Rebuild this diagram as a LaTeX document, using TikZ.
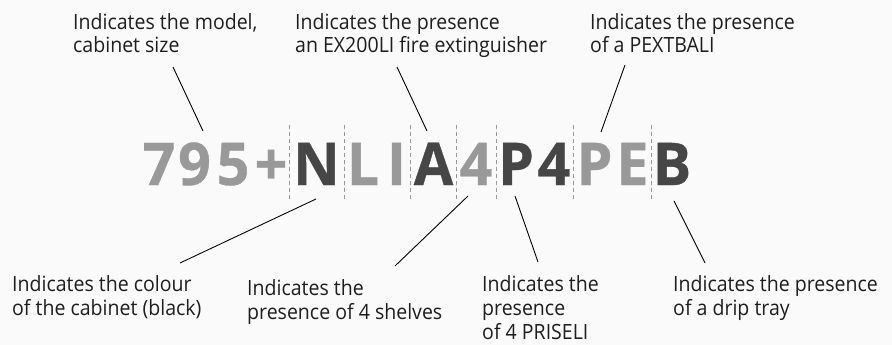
\documentclass[tikz,border=0pt]{standalone}
\usepackage{fontspec}
\setmainfont{Open Sans}[FakeStretch=0.93]
\newfontfamily\codefont{Open Sans}[FakeStretch=0.97,FakeBold=0.6]
\definecolor{codegray}{RGB}{153,153,153}
\definecolor{codedark}{RGB}{70,70,70}
\definecolor{labeltext}{RGB}{30,30,30}
\definecolor{bgpaper}{RGB}{250,250,250}
\tikzset{
	codechar/.style={anchor=base, inner sep=0pt, font=\codefont\bfseries\fontsize{59}{59}\selectfont},
	hint/.style={anchor=base west, inner sep=0pt, align=left, text=labeltext, font=\fontsize{21}{24}\selectfont},
	sep/.style={codegray, line width=0.8pt, dash pattern=on 4pt off 3pt},
	pointer/.style={black, line width=0.9pt}
}

\begin{document}
\begin{tikzpicture}[x=1pt, y=-1pt]
			%%%%% START %%%%%
			
			\fill[bgpaper] (0, 0) rectangle (892, 345);
			\useasboundingbox (0, 0) rectangle (892, 345);
			
			% code letters
			\node[codechar, text=codegray] (c7) at (159, 185) {7};
			\node[codechar, text=codegray] (c9) at (194.5, 185) {9};
			\node[codechar, text=codegray] (c5) at (233, 185) {5};
			\node[codechar, text=codegray] (cplus) at (271, 185) {+};
			\node[codechar, text=codedark] (cN) at (316.5, 185) {N};
			\node[codechar, text=codegray] (cL) at (363, 185) {L};
			\node[codechar, text=codegray] (cI) at (396.5, 185) {I};
			\node[codechar, text=codedark] (cA) at (433.5, 185) {A};
			\node[codechar, text=codegray] (c4a) at (476, 185) {4};
			\node[codechar, text=codedark] (cP) at (516, 185) {P};
			\node[codechar, text=codedark] (c4b) at (554, 185) {4};
			\node[codechar, text=codegray] (cPb) at (594.5, 185) {P};
			\node[codechar, text=codegray] (cE) at (632.5, 185) {E};
			\node[codechar, text=codedark] (cB) at (672, 185) {B};
			
			% dashed separators
			\foreach \sx in {289, 344, 410, 456, 496, 573, 651}
				\draw[sep] (\sx, 125) -- (\sx, 200);
			
			% labels above (placed at the baseline of the last line)
			\node[hint] (model) at (73, 53) {Indicates the model,\\cabinet size};
			\node[hint] (extg) at (295, 53) {Indicates the presence\\an EX200LI fire extinguisher};
			\node[hint] (pext) at (590, 53) {Indicates the presence\\of a PEXTBALI};
			
			% labels below
			\node[hint] (colour) at (12, 315) {Indicates the colour\\of the cabinet (black)};
			\node[hint] (shelf) at (247, 319) {Indicates the\\presence of 4 shelves};
			\node[hint] (prise) at (482, 339) {Indicates the\\presence\\of 4 PRISELI};
			\node[hint] (drip) at (673, 315) {Indicates the presence\\of a drip tray};
			
			% pointer ends
			\coordinate (model-a) at (173, 67);
			\coordinate (model-b) at (203, 131);
			\coordinate (extg-a) at (397, 67);
			\coordinate (extg-b) at (427, 131);
			\coordinate (pext-a) at (625, 65);
			\coordinate (pext-b) at (601, 132);
			\coordinate (colour-a) at (180, 263);
			\coordinate (colour-b) at (316, 199);
			\coordinate (shelf-a) at (395, 266);
			\coordinate (shelf-b) at (468, 196);
			\coordinate (prise-a) at (538, 262);
			\coordinate (prise-b) at (515, 196);
			\coordinate (drip-a) at (705, 263);
			\coordinate (drip-b) at (674, 201);
			
			\foreach \p in {model, extg, pext, colour, shelf, prise, drip}
				\draw[pointer] (\p-a) -- (\p-b);
			
			%%%%% END %%%%%
		\end{tikzpicture}
\end{document}
